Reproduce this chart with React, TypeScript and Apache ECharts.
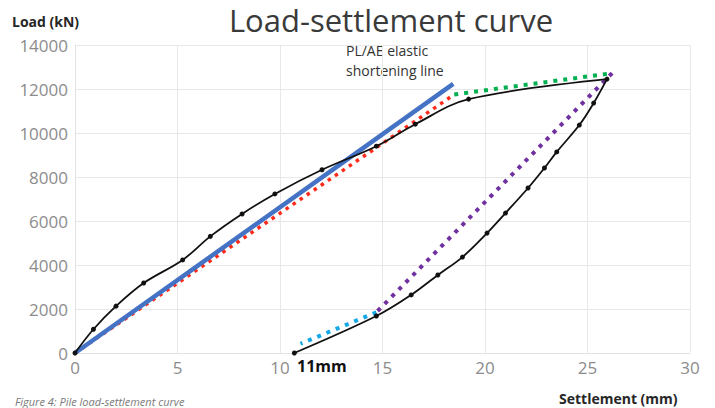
import React, { useEffect, useRef } from "react";
import * as echarts from "echarts";

const xTicks = { min: 0, max: 30, interval: 5 };
const yTicks = { min: 0, max: 14000, interval: 2000 };

// Measured load-settlement test curve (loading then unloading)
const testSettlement = [0, 0.9, 2.0, 3.35, 5.25, 6.6, 8.15, 9.75, 12.05, 14.7, 16.6, 19.2, 25.95, 25.3, 24.6, 23.5, 22.9, 22.1, 21.0, 20.1, 18.9, 17.7, 16.4, 14.7, 10.7];
const testLoad = [0, 1080, 2130, 3180, 4230, 5300, 6320, 7230, 8330, 9400, 10400, 11540, 12450, 11360, 10360, 9140, 8410, 7500, 6360, 5450, 4360, 3545, 2640, 1680, 0];

// PL/AE elastic shortening line
const elasticSettlement = [0, 18.45];
const elasticLoad = [0, 12230];

// Dotted trend segments
const redSettlement = [0, 18.5];
const redLoad = [0, 11750];
const greenSettlement = [18.5, 26.2];
const greenLoad = [11750, 12720];
const purpleSettlement = [26.2, 14.7];
const purpleLoad = [12720, 1850];
const cyanSettlement = [14.7, 11.0];
const cyanLoad = [1850, 420];

const zip = (xs: number[], ys: number[]) => xs.map((x, i) => [x, ys[i]]);

const FONT = "Open Sans";

export default function App() {
  const ref = useRef<HTMLDivElement>(null);
  useEffect(() => {
    if (!ref.current) return;
    const chart = echarts.init(ref.current, null, { renderer: "svg" });
    const dotted = (color: string, w: number, gap: number) => ({
      color,
      width: w,
      type: [w, gap] as any,
    });
    chart.setOption({
      animation: false,
      backgroundColor: "#ffffff",
      grid: { left: 75, right: 25, top: 45, bottom: 55, containLabel: false },
      xAxis: {
        type: "value",
        min: xTicks.min,
        max: xTicks.max,
        interval: xTicks.interval,
        axisLine: { show: true, lineStyle: { color: "#e3e3e3", width: 1 } },
        axisTick: { show: false },
        axisLabel: { color: "#8c8c8c", fontSize: 17, fontFamily: FONT, margin: 6, formatter: (v: number) => String(v) },
        splitLine: { show: true, lineStyle: { color: "#e8e8e8", width: 1 } },
      },
      yAxis: {
        type: "value",
        min: yTicks.min,
        max: yTicks.max,
        interval: yTicks.interval,
        axisLine: { show: true, lineStyle: { color: "#e3e3e3", width: 1 } },
        axisTick: { show: false },
        axisLabel: { color: "#8c8c8c", fontSize: 17, fontFamily: FONT, margin: 7, formatter: (v: number) => String(v) },
        splitLine: { show: true, lineStyle: { color: "#e8e8e8", width: 1 } },
      },
      series: [
        {
          type: "line",
          data: zip(redSettlement, redLoad),
          symbol: "none",
          lineStyle: dotted("#ff2a1a", 3.5, 5),
          z: 2,
        },
        {
          type: "line",
          data: zip(elasticSettlement, elasticLoad),
          symbol: "none",
          lineStyle: { color: "#4472c4", width: 4.5 },
          z: 3,
        },
        {
          type: "line",
          data: zip(greenSettlement, greenLoad),
          symbol: "none",
          lineStyle: dotted("#00b050", 4, 6),
          z: 2,
        },
        {
          type: "line",
          data: zip(purpleSettlement, purpleLoad),
          symbol: "none",
          lineStyle: dotted("#7030a0", 4, 6),
          z: 2,
        },
        {
          type: "line",
          data: zip(cyanSettlement, cyanLoad),
          symbol: "none",
          lineStyle: dotted("#14a8e8", 4, 6),
          z: 2,
        },
        {
          type: "line",
          data: zip(testSettlement, testLoad),
          smooth: 0.35,
          symbol: "circle",
          symbolSize: 5,
          itemStyle: { color: "#111111" },
          lineStyle: { color: "#111111", width: 1.8 },
          z: 4,
        },
      ],
      graphic: [
        {
          type: "text",
          x: 391,
          y: 20,
          style: {
            text: "Load-settlement curve",
            fontSize: 31,
            fontFamily: FONT,
            fill: "#3a3a3a",
            align: "center",
            verticalAlign: "middle",
          },
        },
        {
          type: "text",
          x: 12,
          y: 21,
          style: { text: "Load (kN)", fontSize: 14, fontWeight: "bold", fontFamily: FONT, fill: "#262626", verticalAlign: "middle" },
        },
        {
          type: "text",
          x: 346,
          y: 40,
          style: {
            text: "PL/AE elastic\nshortening line",
            fontSize: 14,
            lineHeight: 20,
            fontFamily: FONT,
            fill: "#333333",
          },
        },
        {
          type: "text",
          x: 297,
          y: 366,
          style: { text: "11mm", fontSize: 16, fontWeight: "bold", fontFamily: FONT, fill: "#111111", verticalAlign: "middle" },
        },
        {
          type: "text",
          x: 559,
          y: 398,
          style: { text: "Settlement (mm)", fontSize: 14, fontWeight: "bold", fontFamily: FONT, fill: "#262626", verticalAlign: "middle" },
        },
        {
          type: "text",
          x: 15,
          y: 401,
          style: {
            text: "Figure 4: Pile load-settlement curve",
            fontSize: 11,
            lineHeight: 12,
            fontStyle: "italic",
            fontFamily: FONT,
            fill: "#7a7a7a",
            verticalAlign: "middle",
          },
        },
      ],
    });
    return () => chart.dispose();
  }, []);
  return (
    <div
      ref={ref}
      style={{ position: "fixed", left: 0, top: 0, width: 715, height: 408, background: "#fff" }}
    />
  );
}
